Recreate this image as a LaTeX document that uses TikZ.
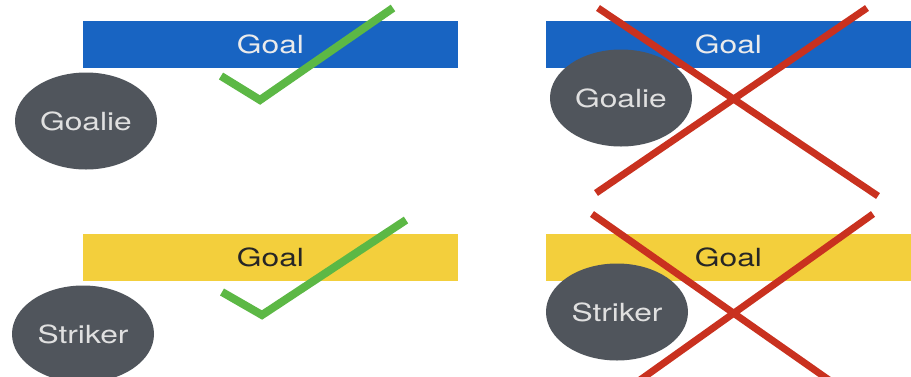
\documentclass[tikz,border=0pt]{standalone}
\usepackage{fontspec}
\setmainfont{TeX Gyre Heros}
\usetikzlibrary{shapes.geometric}

\definecolor{goalblue}{HTML}{1864C2}
\definecolor{goalyellow}{HTML}{F3CF3C}
\definecolor{playergray}{HTML}{50555C}
\definecolor{tickgreen}{HTML}{5CB845}
\definecolor{crossred}{HTML}{C9311F}
\newcommand{\widetext}[1]{\scalebox{1.27}[1]{#1}}

\begin{document}
\begin{tikzpicture}[x=1pt,y=-1pt,
	goalbar/.style={rectangle, inner sep=0pt, minimum height=47pt, font=\fontsize{25}{25}\selectfont},
	player/.style={ellipse, fill=playergray, text=black!12, inner sep=0pt, minimum width=142pt, minimum height=97pt, font=\fontsize{25}{25}\selectfont},
	tick/.style={tickgreen, line width=8pt},
	cross/.style={crossred, line width=7pt}]

		\clip (0,0) rectangle (911,376);
		\fill[white] (0,0) rectangle (911,376);

		% goals
		\node[goalbar, fill=goalblue, text=black!8, minimum width=375pt] (goaltl) at (270.5,44.5) {\widetext{Goal}};
		\node[goalbar, fill=goalblue, text=black!8, minimum width=365pt] (goaltr) at (728.5,44.5) {\widetext{Goal}};
		\node[goalbar, fill=goalyellow, text=black!85, minimum width=375pt] (goalbl) at (270.5,257) {\widetext{Goal}};
		\node[goalbar, fill=goalyellow, text=black!85, minimum width=365pt] (goalbr) at (728.5,257) {\widetext{Goal}};

		% players
		\node[player] (goalieok) at (86,121) {\widetext{Goalie}};
		\node[player] (goaliebad) at (621,98) {\widetext{Goalie}};
		\node[player] (strikerok) at (83,334) {\widetext{Striker}};
		\node[player] (strikerbad) at (617,312) {\widetext{Striker}};

		% right or wrong
		\draw[tick] (221,76) -- (260,100) -- (393,8);
		\draw[tick] (222,292) -- (262,315) -- (406,220);

		\draw[cross] (598,8) -- (878,196);
		\draw[cross] (867,8) -- (596,193);
		\draw[cross] (592,214) -- (829,380);
		\draw[cross] (873,214) -- (640,380);

	\end{tikzpicture}
\end{document}
